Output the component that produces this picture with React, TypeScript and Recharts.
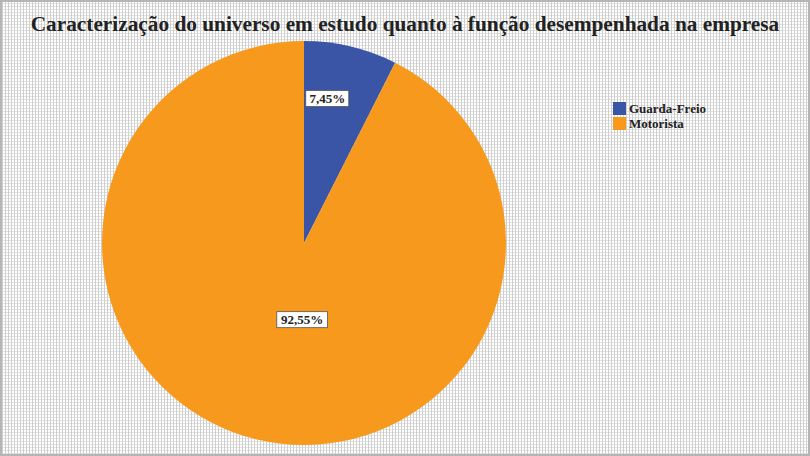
import { PieChart, Pie, Cell, Legend } from 'recharts';

const categories = ['Guarda-Freio', 'Motorista'];
const shares = [7.45, 92.55];
const labels = ['7,45%', '92,55%'];
const colors = ['#3A54A6', '#F7991C'];

const data = categories.map((name, i) => ({ name, value: shares[i], label: labels[i] }));

const RAD = Math.PI / 180;
const labelRadius = [0.71, 0.38];
const labelShift = [[-10, -5], [16, 2]];

function renderLabel(props: any) {
  const { cx, cy, midAngle, outerRadius, index } = props;
  const r = outerRadius * labelRadius[index];
  const x = cx + r * Math.cos(-midAngle * RAD) + labelShift[index][0];
  const y = cy + r * Math.sin(-midAngle * RAD) + labelShift[index][1];
  const text = labels[index];
  const w = text.length * 7.8 + 4;
  const h = 16;
  return (
    <g>
      <rect x={x - w / 2} y={y - h / 2} width={w} height={h} fill="#fff" stroke="#555" strokeWidth={0.8} />
      <text x={x} y={y + 4.5} textAnchor="middle" fontFamily="'Liberation Serif', 'Times New Roman', serif" fontWeight="bold" fontSize={13} fill="#222">
        {text}
      </text>
    </g>
  );
}

function LegendBox() {
  return (
    <div style={{ fontFamily: "'Liberation Serif', 'Times New Roman', serif", fontWeight: 'bold', fontSize: 13, color: '#222', lineHeight: '15px' }}>
      {categories.map((c, i) => (
        <div key={c} style={{ display: 'flex', alignItems: 'center' }}>
          <span style={{ display: 'inline-block', width: 13, height: 13, background: colors[i], marginRight: 3 }} />
          {c}
        </div>
      ))}
    </div>
  );
}

export default function App() {
  return (
    <div
      style={{
        position: 'fixed',
        left: 0,
        top: 0,
        width: 810,
        height: 456,
        boxSizing: 'border-box',
        border: '2px solid #b5b5b5',
        backgroundColor: '#fff',
        backgroundImage:
          'repeating-linear-gradient(90deg, #cfcfcf 0 1px, transparent 1px 3px), repeating-linear-gradient(0deg, #e2e2e2 0 1px, transparent 1px 3px)',
      }}
    >
      <div
        style={{
          position: 'absolute',
          left: 0,
          top: 10,
          width: 806,
          textAlign: 'center',
          fontFamily: "'Liberation Serif', 'Times New Roman', serif",
          fontWeight: 'bold',
          fontSize: 21.3,
          color: '#222',
        }}
      >
        Caracterização do universo em estudo quanto à função desempenhada na empresa
      </div>
      <div style={{ position: 'absolute', left: -2, top: -2 }}>
        <PieChart width={810} height={456} margin={{ top: 0, right: 0, bottom: 0, left: 0 }}>
          <Pie
            data={data}
            dataKey="value"
            nameKey="name"
            cx={304}
            cy={243}
            outerRadius={202}
            startAngle={90}
            endAngle={-270}
            stroke="none"
            label={renderLabel}
            labelLine={false}
            isAnimationActive={false}
          >
            {data.map((d, i) => (
              <Cell key={d.name} fill={colors[i]} />
            ))}
          </Pie>
          <Legend
            layout="vertical"
            content={() => <LegendBox />}
            wrapperStyle={{ position: 'absolute', left: 613, top: 101, width: 130 }}
          />
        </PieChart>
      </div>
    </div>
  );
}
